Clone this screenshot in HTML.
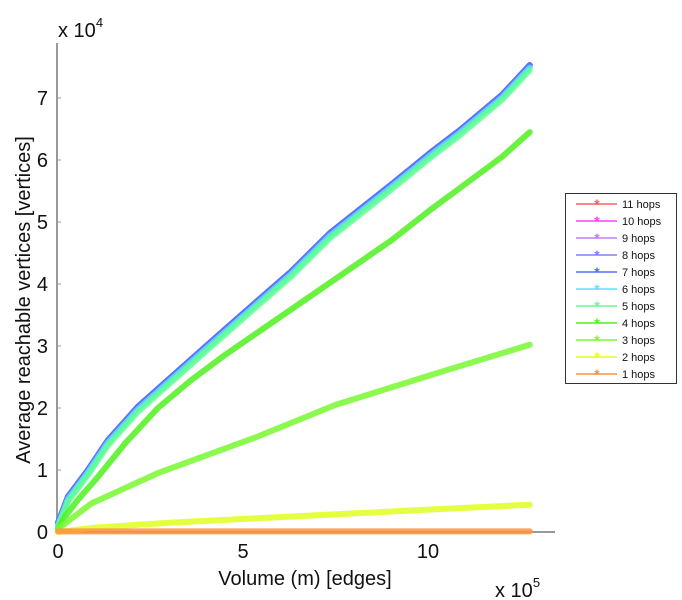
<!DOCTYPE html>
<html><head><meta charset="utf-8"><style>
body{margin:0;background:#fff;}
svg{display:block;font-family:"Liberation Sans",sans-serif;}
</style></head><body>
<svg id="chart" width="682" height="600">
<g id="axes"></g>
<g id="series"></g>
<g id="legend"></g>
</svg>
<script>
const xTicks=[0,5,10];
const yTicks=[0,1,2,3,4,5,6,7];
const xTop=[0,0.1,0.27,0.81,1.35,2.16,2.97,3.78,4.5,5.32,6.3,7.35,9,10.05,10.86,12,12.75];
const topCluster=[0.15,0.3,0.57,1.0,1.48,2.02,2.45,2.88,3.26,3.69,4.2,4.82,5.6,6.11,6.48,7.05,7.53];
const x4=[0,0.19,0.54,1.08,1.8,2.7,3.6,4.5,5.4,7.35,9,10.05,10.8,12,12.75];
const hops4=[0.05,0.25,0.52,0.89,1.42,2.0,2.45,2.85,3.22,4.02,4.7,5.19,5.52,6.05,6.45];
const x3=[0,0.9,2.7,5.4,7.5,10.5,12.75];
const hops3=[0.05,0.46,0.95,1.54,2.05,2.61,3.02];
const x2=[0,1,3,5.32,8,10,12.75];
const hops2=[0,0.07,0.15,0.22,0.3,0.36,0.44];
const x1=[0,3,6,9,12.75];
const hops1=[0.01,0.01,0.01,0.01,0.01];
const seriesNames=["11 hops","10 hops","9 hops","8 hops","7 hops","6 hops","5 hops","4 hops","3 hops","2 hops","1 hops"];
const seriesColors=["#ff6060","#ff40ff","#c080ff","#8080ff","#5070ff","#60e0ff","#60ff90","#50f020","#78f830","#e0ff20","#ff9040"];
const offsets=[0,0,0,0,0,-0.04,-0.08];

const NS="http://www.w3.org/2000/svg";
const X0=58,XS=37,Y0=532,YS=62;
const sx=v=>X0+v*XS, sy=v=>Y0-v*YS;
function mk(t,a,p){const e=document.createElementNS(NS,t);for(const k in a)e.setAttribute(k,a[k]);p.appendChild(e);return e;}
const axes=document.getElementById('axes');
let l=mk('line',{x1:57,y1:43,x2:57,y2:532,stroke:'#999','stroke-width':2},axes);


l=mk('line',{x1:57,y1:532,x2:555,y2:532,stroke:'#999','stroke-width':2},axes);


xTicks.forEach(v=>{
 const t=mk('text',{x:sx(v),y:558,'text-anchor':'middle','font-size':20,fill:'#111'},axes);t.textContent=v;
 
 
});
yTicks.forEach(v=>{
 const t=mk('text',{x:48,y:sy(v)+7,'text-anchor':'end','font-size':20,fill:'#111'},axes);t.textContent=v;
 
 
 mk('line',{x1:57,y1:sy(v),x2:61,y2:sy(v),stroke:'#999'},axes);
});
let t=mk('text',{x:305,y:585,'text-anchor':'middle','font-size':20,fill:'#111'},axes);t.textContent='Volume (m) [edges]';


t=mk('text',{x:30,y:300,'text-anchor':'middle','font-size':20,fill:'#111',transform:'rotate(-90 30 300)'},axes);t.textContent='Average reachable vertices [vertices]';


t=mk('text',{x:495,y:597,'font-size':20,fill:'#111'},axes);t.innerHTML='x 10<tspan dy="-10" font-size="13">5</tspan>';


t=mk('text',{x:58,y:37,'font-size':20,fill:'#111'},axes);t.innerHTML='x 10<tspan dy="-10" font-size="13">4</tspan>';



const sg=document.getElementById('series');
function getData(i){
 if(i<=6) return [xTop,topCluster.map(v=>Math.max(0,v+offsets[i]))];
 if(i===7) return [x4,hops4];
 if(i===8) return [x3,hops3];
 if(i===9) return [x2,hops2];
 return [x1,hops1];
}
for(let i=0;i<11;i++){
 const [xs,ys]=getData(i);
 const pts=xs.map((x,j)=>sx(x)+','+sy(ys[j])).join(' ');
 const p=mk('polyline',{points:pts,fill:'none',stroke:seriesColors[i],'stroke-width':6,'stroke-linejoin':'round','stroke-linecap':'round','stroke-opacity':0.85},sg);
 
 
}
const lg=document.getElementById('legend');
const box=mk('rect',{x:565.5,y:193.5,width:111,height:190,fill:'#fff',stroke:'#333'},lg);


seriesNames.forEach((n,i)=>{
 const y=204+i*17;
 const g=mk('g',{},lg);
 
 
 mk('line',{x1:576,y1:y,x2:617,y2:y,stroke:seriesColors[i],'stroke-width':1.5},g);
 const m=mk('text',{x:597,y:y+5,'text-anchor':'middle','font-size':14,fill:seriesColors[i],'font-weight':'bold'},g);m.textContent='*';
 const tt=mk('text',{x:622,y:y+4,'font-size':11,fill:'#111'},g);tt.textContent=n;
});
</script>
</body></html>
